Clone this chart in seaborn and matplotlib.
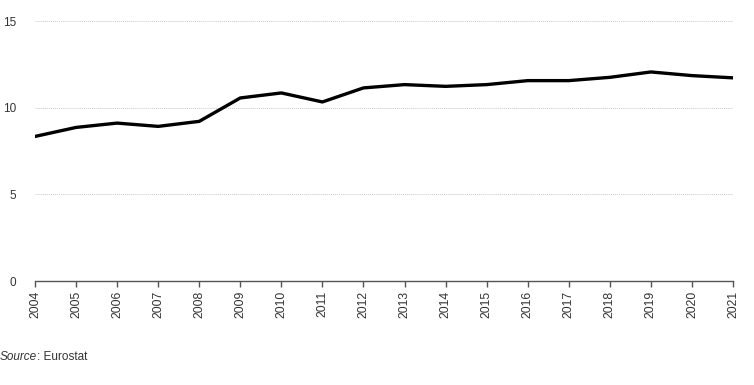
import matplotlib
matplotlib.use("Agg")
import matplotlib.pyplot as plt
import seaborn as sns
import pandas as pd

years = [2004, 2005, 2006, 2007, 2008, 2009, 2010, 2011, 2012,
         2013, 2014, 2015, 2016, 2017, 2018, 2019, 2020, 2021]
values = [8.34, 8.86, 9.11, 8.92, 9.21, 10.56, 10.85, 10.33, 11.14,
          11.33, 11.23, 11.33, 11.56, 11.56, 11.75, 12.06, 11.85, 11.72]
y_ticks = [0, 5, 10, 15]

sns.set_style("white")
plt.rcParams['font.family'] = ['Liberation Sans', 'DejaVu Sans']

df = pd.DataFrame({"year": years, "value": values})

fig = plt.figure(figsize=(7.54, 3.85), dpi=100)
ax = fig.add_axes([35/754, 1-281/385, (733-35)/754, (281-21)/385])

sns.lineplot(data=df, x="year", y="value", ax=ax, color="black",
             linewidth=2.4, solid_joinstyle="round")

ax.set_xlim(years[0], years[-1])
ax.set_ylim(0, 15)
ax.set_yticks(y_ticks)
ax.set_xticks(years)
ax.set_xticklabels([str(y) for y in years], rotation=90)
ax.set_xlabel("")
ax.set_ylabel("")

for s in ["top", "right", "left"]:
    ax.spines[s].set_visible(False)
ax.spines["bottom"].set_color("#555555")
ax.spines["bottom"].set_linewidth(1.0)

ax.grid(axis="y", color="#c8c8c8", linestyle=(0, (1, 1)), linewidth=0.7)
ax.grid(axis="x", visible=False)
ax.set_axisbelow(True)

ax.tick_params(axis="x", bottom=True, length=4, width=1, color="#555555",
               labelsize=8.8, labelcolor="#333333", pad=3)
ax.tick_params(axis="y", left=False, labelsize=8.5, labelcolor="#333333", pad=10)

t1 = fig.text(0.0, 1-357/385, "Source", style="italic", fontsize=8.5,
              color="#333333", va="center", ha="left")
ax.annotate(": Eurostat", xy=(1, 0.5), xycoords=t1, fontsize=8.5,
            color="#333333", va="center", ha="left", annotation_clip=False)

fig.savefig("out.png", dpi=100)
